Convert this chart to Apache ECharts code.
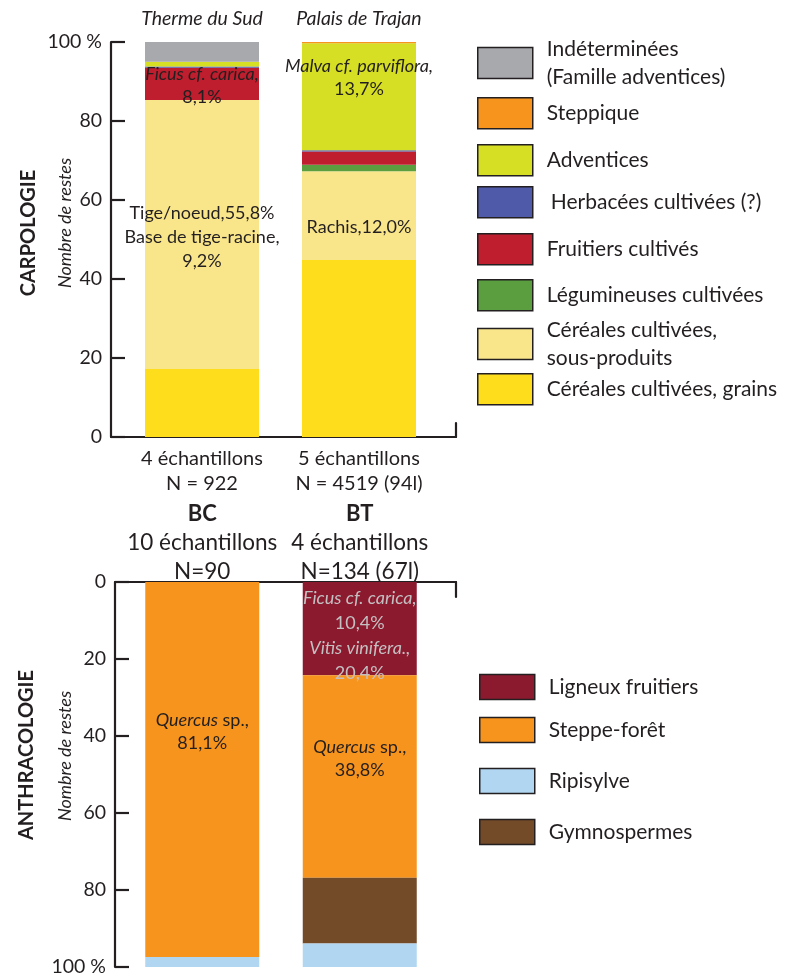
<!DOCTYPE html>
<html><head><meta charset="utf-8">
<script src="https://cdn.jsdelivr.net/npm/echarts@6/dist/echarts.min.js"></script>
<style>html,body{margin:0;padding:0;background:#fff}#c{width:792px;height:977px}</style>
</head><body><div id="c"></div>
<script>
// ---- Carpologie data (percent of remains, bottom to top) ----
const carpoSites = ['Therme du Sud', 'Palais de Trajan'];
const carpoSamples = ['4 échantillons\nN = 922', '5 échantillons\nN = 4519 (94l)'];
const cerealesGrains = [17.2, 44.8];
const cerealesSousProduits = [68.1, 22.5];
const legumineuses = [0, 1.6];
const fruitiers = [8.2, 3.4];
const herbacees = [0.3, 0.3];
const adventices = [1.2, 27.1];
const steppique = [0, 0.3];
const indeterminees = [5.0, 0];

// ---- Anthracologie data (percent, top to bottom) ----
const anthracoSites = ['BC', 'BT'];
const anthracoSamples = ['10 échantillons\nN=90', '4 échantillons\nN=134 (67l)'];
const ligneuxFruitiers = [0, 24.2];
const steppeForet = [97.4, 52.6];
const gymnospermes = [0, 17.1];
const ripisylve = [2.6, 6.1];

const tickLabels = ['0', '20', '40', '60', '80', '100 %'];

const INK = '#231f20';
const FONT = 'Lato';

function items(arr, labels) {
  return arr.map((v, i) => (labels && labels[i]) ? { value: v, label: labels[i] } : v);
}
const carpoRich = { i: { fontStyle: 'italic', fontSize: 18, fontFamily: FONT, color: INK, lineHeight: 23 } };

function carpoSeries(name, data, color, labels) {
  return { name, type: 'bar', stack: 'carpo', xAxisIndex: 0, yAxisIndex: 0, barWidth: 114,
    itemStyle: { color }, data: items(data, labels), silent: true,
    label: { show: false } };
}
function anthSeries(name, data, color, labels) {
  return { name, type: 'bar', stack: 'anth', xAxisIndex: 2, yAxisIndex: 2, barWidth: 114,
    itemStyle: { color }, data: items(data, labels), silent: true,
    label: { show: false } };
}
const lblBase = { show: true, fontFamily: FONT, fontSize: 18, color: INK, lineHeight: 23, align: 'center' };

const series = [
  carpoSeries('Céréales cultivées, grains', cerealesGrains, '#fedd1d'),
  carpoSeries('Céréales cultivées, sous-produits', cerealesSousProduits, '#f9e68b', [
    Object.assign({}, lblBase, { position: 'inside', offset: [0, 3], lineHeight: 24,
      formatter: 'Tige/noeud,55,8%\nBase de tige-racine,\n9,2%' }),
    Object.assign({}, lblBase, { position: 'inside', offset: [0, 12], formatter: 'Rachis,12,0%' })
  ]),
  carpoSeries('Légumineuses cultivées', legumineuses, '#5a9e40'),
  carpoSeries('Fruitiers cultivés', fruitiers, '#be1e2d', [
    Object.assign({}, lblBase, { position: 'inside', offset: [0, 2], rich: carpoRich,
      formatter: '{i|Ficus cf. carica,}\n8,1%' }), null
  ]),
  carpoSeries('Herbacées cultivées (?)', herbacees, '#4f5ba8'),
  carpoSeries('Adventices', adventices, '#d6df23', [
    null,
    Object.assign({}, lblBase, { position: 'insideTop', distance: 12, rich: carpoRich,
      formatter: '{i|Malva cf. parviflora,}\n13,7%' })
  ]),
  carpoSeries('Steppique', steppique, '#f7941d'),
  carpoSeries('Indéterminées (Famille adventices)', indeterminees, '#a7a9ac'),

  anthSeries('Ligneux fruitiers', ligneuxFruitiers, '#8b1a2f', [
    null,
    Object.assign({}, lblBase, { position: 'inside', offset: [0, 7], color: '#c4c0c2', lineHeight: 25,
      rich: { i: { fontStyle: 'italic', fontSize: 18, fontFamily: FONT, color: '#c4c0c2', lineHeight: 25 } },
      formatter: '{i|Ficus cf. carica,}\n10,4%\n{i|Vitis vinifera.,}\n20,4%' })
  ]),
  anthSeries('Steppe-forêt', steppeForet, '#f7941e', [
    Object.assign({}, lblBase, { position: 'inside', offset: [0, -38], rich: carpoRich,
      formatter: '{i|Quercus} sp.,\n81,1%' }),
    Object.assign({}, lblBase, { position: 'inside', offset: [0, -18], rich: carpoRich,
      formatter: '{i|Quercus} sp.,\n38,8%' })
  ]),
  anthSeries('Gymnospermes', gymnospermes, '#734b29'),
  anthSeries('Ripisylve', ripisylve, '#b0d6f1')
];

function leg(name, left, top, w, h, text, padLeft) {
  return { show: true, left, top, padding: 0, selectedMode: false, icon: 'rect',
    itemWidth: w, itemHeight: h, data: [name],
    itemStyle: { borderColor: INK, borderWidth: 1.5 },
    formatter: () => text,
    textStyle: { fontFamily: FONT, fontSize: 21, color: INK, lineHeight: 28, padding: [0, 0, 0, padLeft || 9] } };
}
const legends = [
  leg('Indéterminées (Famille adventices)', 477, 35, 55, 31, 'Indéterminées\n(Famille adventices)'),
  leg('Steppique', 477, 97, 55, 31, 'Steppique'),
  leg('Adventices', 477, 144, 55, 31, 'Adventices'),
  leg('Herbacées cultivées (?)', 477, 186, 55, 31, 'Herbacées cultivées (?)', 13),
  leg('Fruitiers cultivés', 477, 233, 55, 31, 'Fruitiers cultivés'),
  leg('Légumineuses cultivées', 477, 279, 55, 31, 'Légumineuses cultivées'),
  leg('Céréales cultivées, sous-produits', 477, 316, 55, 31, 'Céréales cultivées,\nsous-produits'),
  leg('Céréales cultivées, grains', 477, 373, 55, 31, 'Céréales cultivées, grains'),
  leg('Ligneux fruitiers', 479, 673, 55, 25, 'Ligneux fruitiers'),
  leg('Steppe-forêt', 479, 716, 55, 25, 'Steppe-forêt'),
  leg('Ripisylve', 479, 767, 55, 25, 'Ripisylve'),
  leg('Gymnospermes', 479, 818, 55, 25, 'Gymnospermes')
];

const axisLineStyle = { color: INK, width: 2.2 };
const hiddenVal = (pos) => ({ type: 'value', position: pos, min: 0, max: 1,
  axisLine: { show: true, onZero: false, lineStyle: axisLineStyle }, axisTick: { show: false },
  axisLabel: { show: false }, splitLine: { show: false } });

const option = {
  animation: false,
  textStyle: { fontFamily: FONT },
  grid: [
    { left: 123.5, top: 42, width: 314, height: 395 },   // carpo bars
    { left: 111, top: 423, width: 345, height: 14 },     // carpo base line
    { left: 123.5, top: 582, width: 315, height: 392 },  // anthraco bars
    { left: 115, top: 582, width: 341, height: 15 }      // anthraco base line
  ],
  legend: legends,
  xAxis: [
    { type: 'category', gridIndex: 0, data: carpoSites, position: 'bottom',
      axisLine: { show: false }, axisTick: { show: false },
      axisLabel: { interval: 0, margin: 9, fontSize: 20, color: INK, lineHeight: 25, fontFamily: FONT,
        formatter: (v, i) => carpoSamples[i] } },
    { type: 'category', gridIndex: 0, data: carpoSites, position: 'top',
      axisLine: { show: false }, axisTick: { show: false },
      axisLabel: { interval: 0, margin: 13, fontSize: 19.5, fontStyle: 'italic', color: INK, fontFamily: FONT } },
    { type: 'category', gridIndex: 2, data: anthracoSites, position: 'top',
      axisLine: { show: false }, axisTick: { show: false },
      axisLabel: { interval: 0, margin: -4, fontSize: 22.5, color: INK, lineHeight: 29, fontFamily: FONT,
        formatter: (v, i) => '{b|' + v + '}\n' + anthracoSamples[i],
        rich: { b: { fontWeight: 'bold', fontSize: 22, color: INK, lineHeight: 29, fontFamily: FONT } } } },
    Object.assign(hiddenVal('bottom'), { gridIndex: 1 }),
    Object.assign(hiddenVal('top'), { gridIndex: 3 })
  ],
  yAxis: [
    { type: 'value', gridIndex: 0, min: 0, max: 100, interval: 20, offset: 12.5,
      axisLine: { show: true, lineStyle: axisLineStyle },
      axisTick: { show: true, inside: true, length: 14, lineStyle: axisLineStyle },
      splitLine: { show: false },
      axisLabel: { margin: 9, fontSize: 19.5, color: INK, fontFamily: FONT,
        formatter: (v) => tickLabels[Math.round(v / 20)] } },
    Object.assign(hiddenVal('right'), { gridIndex: 1 }),
    { type: 'value', gridIndex: 2, min: 0, max: 100, interval: 20, inverse: true, offset: 8.5,
      axisLine: { show: true, lineStyle: axisLineStyle },
      axisTick: { show: true, inside: true, length: 14, lineStyle: axisLineStyle },
      splitLine: { show: false },
      axisLabel: { margin: 9, fontSize: 19.5, color: INK, fontFamily: FONT,
        formatter: (v) => tickLabels[Math.round(v / 20)] } },
    Object.assign(hiddenVal('right'), { gridIndex: 3 })
  ],
  graphic: [
    { type: 'text', x: 29, y: 233, rotation: Math.PI / 2, silent: true,
      style: { text: 'CARPOLOGIE', fontFamily: FONT, fontWeight: 'bold', fontSize: 20, fill: INK, align: 'center', verticalAlign: 'middle' } },
    { type: 'text', x: 65, y: 223, rotation: Math.PI / 2, silent: true,
      style: { text: 'Nombre de restes', fontFamily: FONT, fontStyle: 'italic', fontSize: 18, fill: INK, align: 'center', verticalAlign: 'middle' } },
    { type: 'text', x: 27, y: 755, rotation: Math.PI / 2, silent: true,
      style: { text: 'ANTHRACOLOGIE', fontFamily: FONT, fontWeight: 'bold', fontSize: 20, fill: INK, align: 'center', verticalAlign: 'middle' } },
    { type: 'text', x: 65, y: 756, rotation: Math.PI / 2, silent: true,
      style: { text: 'Nombre de restes', fontFamily: FONT, fontStyle: 'italic', fontSize: 18, fill: INK, align: 'center', verticalAlign: 'middle' } }
  ],
  series
};
const chart = echarts.init(document.getElementById('c'), null, { renderer: 'canvas' });
chart.setOption(option);
</script></body></html>
